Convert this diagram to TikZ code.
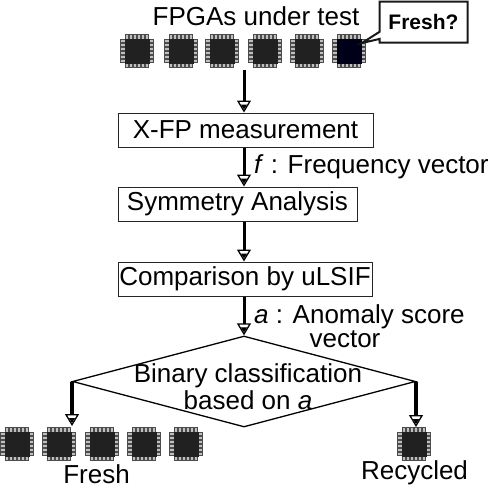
\documentclass[tikz,border=0pt]{standalone}
\usepackage{fontspec}
\setmainfont{Liberation Sans}
\usetikzlibrary{arrows.meta,shapes.geometric,shapes.callouts}

\tikzset{
    pics/chip/.style={
        code={
            % Beinchen
            \foreach \p in {-10,-6,-2,2,6,10} {
                \draw[pin] (-16.5,\p-1.4) rectangle (-12,\p+1.4);
                \draw[pin] (12,\p-1.4) rectangle (16.5,\p+1.4);
                \draw[pin] (\p-1.4,-16.5) rectangle (\p+1.4,-12);
                \draw[pin] (\p-1.4,12) rectangle (\p+1.4,16.5);
            }
            \node[chipbody, #1] (-b) at (0,0) {};
        }
    },
    pics/chip/.default={}
}

\begin{document}
\begin{tikzpicture}[
    x=1pt, y=-1pt,
    every node/.style={font=\fontsize{26}{28}\selectfont, inner sep=0pt},
    pin/.style={draw=black!70, fill=black!25, line width=0.4pt},
    chipbody/.style={fill=black!87, minimum size=25pt},
    stepbox/.style={draw=black!85, line width=1pt, minimum height=34pt},
    edge/.style={-{Triangle[length=5pt, width=6pt, sep=-9pt]Triangle[open, length=12pt, width=14pt, line width=1.3pt]}, line width=3pt},
    >=latex
]
\useasboundingbox (0,0) rectangle (490,488);

% Obere Reihe
\node (title) at (256,16) {FPGAs under test};
\foreach \n/\x in {1/137,2/181,3/222,4/265,5/307} {
    \pic (t\n) at (\x,51) {chip};
}
\pic (t6) at (349,51) {chip={fill=black!90!blue}};

% Sprechblase
\coordinate (tip) at (362,43);
\node[rectangle callout, callout absolute pointer={(tip)}, draw=black!90, line width=2pt,
    fill=white, minimum width=88pt, minimum height=41pt,
    font=\fontsize{21}{23}\selectfont\bfseries] (fresh) at (423.5,22) {Fresh?};

% Schritte
\coordinate (top) at (244,70);
\node[stepbox, minimum width=255pt] (xfp) at (245.5,130) {X-FP measurement};
\node[stepbox, minimum width=239pt] (sym) at (237.5,204) {Symmetry Analysis};
\node[stepbox, minimum width=254pt] (cmp) at (245,279) {Comparison by uLSIF};
\node[draw, shape=diamond, line width=1.3pt, minimum width=343pt, minimum height=91pt] (cls) at (244,381.5) {};
\node (cls1) at (248,376) {Binary classification};
\node (cls2) at (248,400) {based on \textit{a}};

% Beschriftungen
\node[anchor=west] (flbl) at (254,167) {\textit{f} : Frequency vector};
\node[anchor=west] (albl) at (254,317) {\textit{a} : Anomaly score};
\node (albl2) at (345,339) {vector};

% Untere Reihe
\foreach \n/\x in {1/17,2/59,3/102,4/144,5/186} {
    \pic (f\n) at (\x,444) {chip};
}
\pic (r1) at (414,444) {chip};
\node (freshlbl) at (96.5,474) {Fresh};
\node (reclbl) at (414.5,473) {Recycled};

% Pfeile
\coordinate (lend) at (72,426);
\coordinate (rend) at (416,427);
\draw[edge] (top) -- (top |- xfp.north);
\draw[edge] (top |- xfp.south) -- (top |- sym.north);
\draw[edge] (top |- sym.south) -- (top |- cmp.north);
\draw[edge] (top |- cmp.south) -- (cls.north);
\draw[edge, line width=4pt] (lend |- cls.west) -- (lend);
\draw[edge, line width=4pt] (rend |- cls.east) -- (rend);

\end{tikzpicture}
\end{document}
